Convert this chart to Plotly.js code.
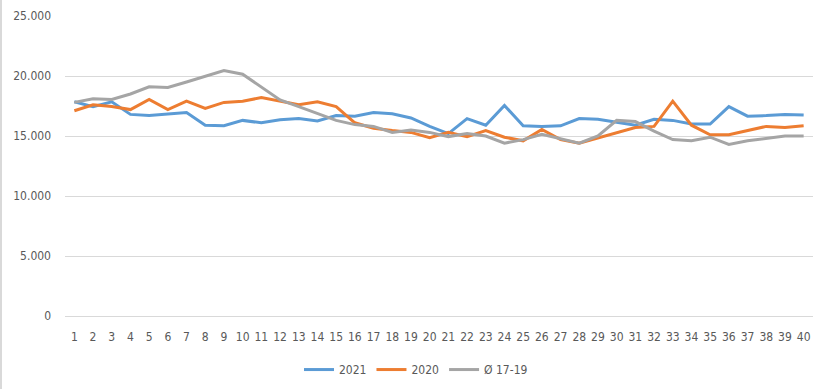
<!DOCTYPE html>
<html>
<head>
<meta charset="utf-8">
<script src="https://cdn.plot.ly/plotly-3.0.1.min.js"></script>
<style>
html,body{margin:0;padding:0;background:#fff;}
#chart{width:830px;height:389px;box-sizing:border-box;border-left:2px solid #d9d9d9;}
</style>
</head>
<body>
<div id="chart"></div>
<script>
const weeks = [];
for (let i = 1; i <= 40; i++) weeks.push(i);

const series2021 = [17850,17450,17850,16800,16700,16800,16950,15900,15850,16300,
                    16100,16350,16450,16250,16700,16650,16950,16850,16500,15800,
                    15200,16450,15900,17550,15850,15800,15850,16450,16400,16150,
                    15900,16400,16300,16000,16000,17450,16650,16700,16800,16750];
const series2020 = [17100,17600,17450,17200,18050,17200,17900,17300,17800,17900,
                    18200,17900,17600,17850,17450,16100,15650,15450,15300,14850,
                    15300,14950,15450,14900,14600,15550,14700,14400,14850,15300,
                    15700,15800,17900,15900,15100,15100,15450,15800,15700,15850];
const seriesAvg  = [17800,18100,18050,18500,19100,19050,19500,19950,20450,20150,
                    19100,18000,17450,16900,16300,15950,15800,15300,15500,15300,
                    14950,15200,15000,14400,14700,15150,14800,14400,15000,16300,
                    16200,15400,14700,14600,14900,14300,14600,14800,15000,15000];

const names = ['2021', '2020', 'Ø 17-19'];
const colors = ['#5B9BD5', '#ED7D31', '#A5A5A5'];
const allSeries = [series2021, series2020, seriesAvg];

const fontFam = '"Liberation Sans Narrow", "DejaVu Sans Condensed", "Liberation Sans", Arial, sans-serif';

const traces = allSeries.map((s, k) => ({
  x: weeks, y: s, type: 'scatter', mode: 'lines', name: names[k],
  line: {color: colors[k], width: 3}
}));

const layout = {
  width: 828, height: 389,
  margin: {l: 63, r: 17, t: 16, b: 73, autoexpand: false},
  paper_bgcolor: '#fff', plot_bgcolor: '#fff',
  separators: ',.',
  font: {family: fontFam, size: 12, color: '#595959'},
  showlegend: true,
  legend: {orientation: 'h', x: 0.5, xanchor: 'center', xref: 'container',
           y: 0.05, yanchor: 'middle', yref: 'container',
           font: {family: fontFam, size: 12, color: '#595959'}, itemwidth: 30, traceorder: 'normal'},
  xaxis: {
    range: [0.5, 40.5], tickmode: 'array', tickvals: weeks, ticktext: weeks.map(String),
    showgrid: false, zeroline: false, showline: false, ticks: '',
    ticklabelstandoff: 12, fixedrange: true, automargin: false
  },
  yaxis: {
    range: [0, 25000], tickmode: 'linear', tick0: 0, dtick: 5000, tickformat: ',d',
    showgrid: true, gridcolor: '#d9d9d9', gridwidth: 1, zeroline: true, zerolinecolor: '#d9d9d9', zerolinewidth: 1,
    showline: false, ticks: '', ticklabelstandoff: 13, fixedrange: true, automargin: false
  }
};

Plotly.newPlot('chart', traces, layout, {displayModeBar: false, staticPlot: true});
</script>
</body>
</html>
